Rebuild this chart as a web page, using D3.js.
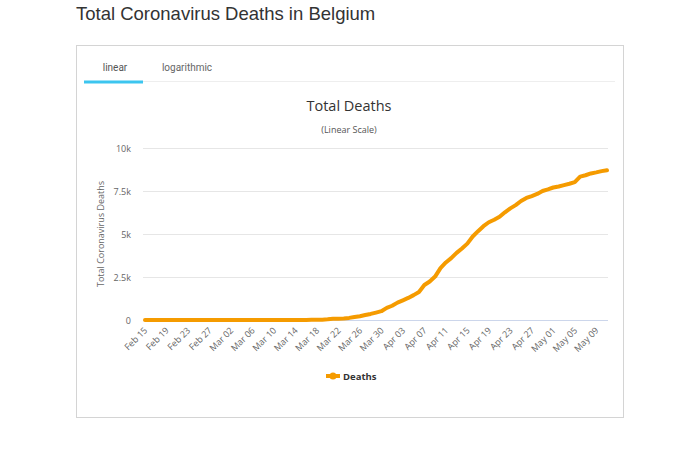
<!DOCTYPE html>
<html><head><meta charset="utf-8">
<script src="https://cdn.jsdelivr.net/npm/d3@7"></script>
<style>
body{margin:0;background:#fff;font-family:"Open Sans","Liberation Sans",Arial,sans-serif;}
</style></head>
<body><svg id="c" width="700" height="462"></svg>
<script>
const startDate = "2020-02-15";
const deaths = [
0,0,0,0,0,0,0,0,0,0,0,0,0,0,0, // Feb 15-29
0,0,0,0,0,0,0,0,0,0, // Mar 1-10
3,3,3,4,4,5,10,14,21,37,67,75,88,122,178,220,289,353,431,513,705, // Mar 11-31
828,1011,1143,1283,1447,1632,2035,2240,2523,3019,3346,3600,3903,4157,4440,4857,5163,5453,5683,5828,5998,6262,6490,6679,6917,7094,7207,7331,7501,7594, // Apr
7703,7765,7844,7924,8016,8339,8415,8521,8581,8656,8707 // May 1-11
];
const yTicks = [0,2500,5000,7500,10000];
const yTickLabels = ["0","2.5k","5k","7.5k","10k"];
const seriesName = "Deaths";

const parse = d3.timeParse("%Y-%m-%d");
const d0 = parse(startDate);
const data = deaths.map((v,i)=>({date:d3.timeDay.offset(d0,i), v}));
const fmt = d3.timeFormat("%b %d");

const svg = d3.select("#c");
svg.append("text").attr("x",76).attr("y",20).attr("font-size",18.5)
  .attr("font-family","Liberation Sans, Arial, sans-serif").attr("fill","#333").text("Total Coronavirus Deaths in Belgium");
// frame
svg.append("rect").attr("x",76.5).attr("y",45.5).attr("width",547).attr("height",372)
  .attr("fill","#fff").attr("stroke","#d4d4d4");
// tabs
svg.append("line").attr("x1",84).attr("x2",615).attr("y1",81.5).attr("y2",81.5).attr("stroke","#eee");
svg.append("rect").attr("x",84).attr("y",80.5).attr("width",59).attr("height",3).attr("fill","#3cc5ef");
svg.append("text").attr("x",115).attr("y",71).attr("text-anchor","middle").attr("font-size",10)
  .attr("font-family","Roboto, sans-serif").attr("fill","#555").text("linear");
svg.append("text").attr("x",187).attr("y",71).attr("text-anchor","middle").attr("font-size",10)
  .attr("font-family","Roboto, sans-serif").attr("fill","#666").text("logarithmic");

// chart titles
svg.append("text").attr("x",349).attr("y",111).attr("text-anchor","middle").attr("font-size",14.5)
  .attr("fill","#333").text("Total Deaths");
svg.append("text").attr("x",349).attr("y",133).attr("text-anchor","middle").attr("font-size",9)
  .attr("fill","#555").text("(Linear Scale)");

const x = d3.scaleTime().domain([data[0].date, data[data.length-1].date]).range([145,607]);
const y = d3.scaleLinear().domain([0,10000]).range([320,148]);

// grid
const gy = svg.append("g");
yTicks.forEach((t,i)=>{
  gy.append("line").attr("x1",143).attr("x2",608).attr("y1",Math.round(y(t))+0.5).attr("y2",Math.round(y(t))+0.5)
    .attr("stroke", t===0 ? "#ccd6eb" : "#e6e6e6");
  gy.append("text").attr("x",131).attr("y",y(t)+3.5).attr("text-anchor","end").attr("font-size",9)
    .attr("fill","#666").text(yTickLabels[i]);
});
svg.append("text").attr("transform","translate(104,234) rotate(-90)").attr("text-anchor","middle")
  .attr("font-size",9).attr("fill","#666").text("Total Coronavirus Deaths");

// x labels every 4 days
const gx = svg.append("g");
data.forEach((d,i)=>{
  if(i%4!==0) return;
  const px = x(d.date);
  gx.append("text").attr("transform",`translate(${px+3},${331}) rotate(-45)`)
    .attr("text-anchor","end").attr("font-size",9).attr("fill","#666").text(fmt(d.date));
});

// line
svg.append("path").datum(data).attr("fill","none").attr("stroke","#f59b00").attr("stroke-width",4)
  .attr("stroke-linejoin","round").attr("stroke-linecap","round")
  .attr("d", d3.line().x(d=>x(d.date)).y(d=>y(d.v)));

// legend
svg.append("line").attr("x1",326).attr("x2",340).attr("y1",376).attr("y2",376).attr("stroke","#f59b00").attr("stroke-width",4);
svg.append("circle").attr("cx",333).attr("cy",376).attr("r",3.5).attr("fill","#f59b00");
svg.append("text").attr("x",343).attr("y",379.5).attr("font-size",9.5).attr("font-weight","bold")
  .attr("fill","#333").text(seriesName);
</script></body></html>
